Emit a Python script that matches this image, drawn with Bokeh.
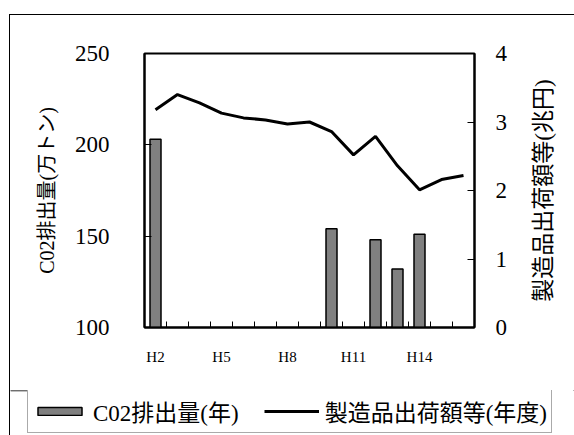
import math
from bokeh.plotting import figure
from bokeh.layouts import column, row
from bokeh.models import (Range1d, LinearAxis, FixedTicker, Legend, LegendItem,
                          ColumnDataSource, Label)
from bokeh.embed import file_html
from bokeh.resources import INLINE

# Fiscal years (Heisei era)
years = ["H2", "H3", "H4", "H5", "H6", "H7", "H8", "H9", "H10",
         "H11", "H12", "H13", "H14", "H15", "H16"]
# CO2 emissions (10k tonnes), only reported for some years
co2 = [203, None, None, None, None, None, None, None, 154,
       None, 148, 132, 151, None, None]
# Shipment value of manufactured goods (trillion yen)
shipments = [3.18, 3.40, 3.28, 3.13, 3.06, 3.03, 2.97, 3.00, 2.86,
             2.52, 2.79, 2.36, 2.01, 2.16, 2.22]
x_labels = ["H2", "H5", "H8", "H11", "H14"]
left_ticks = [100, 150, 200, 250]
right_ticks = [0, 1, 2, 3, 4]
right_title = "製造品出荷額等(兆円)"

FONT = "Liberation Serif, Noto Sans CJK JP"

BAR_STYLE = dict(fill_color="#808080", line_color="black", line_width=1.5)
LINE_STYLE = dict(line_color="black", line_width=3)

idx = list(range(len(years)))
bar_src = ColumnDataSource(dict(
    x=[i for i, v in zip(idx, co2) if v is not None],
    top=[v for v in co2 if v is not None],
))
line_src = ColumnDataSource(dict(x=idx, y=shipments))

# ---- main chart -------------------------------------------------------------
p = figure(width=500, height=375, output_backend="svg", toolbar_location=None,
           x_range=Range1d(-0.5, len(years) - 0.5), y_range=Range1d(100, 250),
           min_border_left=134, min_border_right=33, min_border_top=38,
           min_border_bottom=63)
p.extra_y_ranges = {"right": Range1d(0, 4)}
p.xgrid.visible = False
p.ygrid.visible = False
p.outline_line_color = "black"
p.outline_line_width = 2
p.background_fill_color = "white"
p.border_fill_color = "white"

p.vbar(x="x", top="top", bottom=100, width=0.5, source=bar_src, **BAR_STYLE)
p.line(x="x", y="y", source=line_src, y_range_name="right", **LINE_STYLE)

# bottom axis: labels every third year, tick marks between categories
xa = p.xaxis[0]
label_pos = [years.index(l) for l in x_labels]
xa.ticker = FixedTicker(ticks=label_pos, minor_ticks=[i + 0.5 for i in idx[:-1]])
xa.major_label_overrides = {i: years[i] for i in label_pos}
xa.major_tick_line_color = None
xa.minor_tick_in = 6
xa.minor_tick_out = 0
xa.minor_tick_line_color = "black"
xa.minor_tick_line_width = 1
xa.axis_line_width = 2
xa.major_label_text_font = FONT
xa.major_label_text_font_size = "15px"
xa.major_label_text_color = "black"
xa.major_label_standoff = 15

ya = p.yaxis[0]
ya.ticker = FixedTicker(ticks=left_ticks)
ya.major_tick_in = 7
ya.major_tick_out = 0
ya.minor_tick_line_color = None
ya.axis_line_width = 2
ya.major_label_text_font = FONT
ya.major_label_text_font_size = "23px"
ya.major_label_text_color = "black"
ya.major_label_standoff = 35
ya.axis_label = "C02排出量(万トン)"
ya.axis_label_text_font = FONT
ya.axis_label_text_font_size = "20px"
ya.axis_label_text_font_style = "normal"
ya.axis_label_text_color = "black"
ya.axis_label_standoff = 14

# right value axis (ticks and numbers)
ra = LinearAxis(y_range_name="right", ticker=FixedTicker(ticks=right_ticks))
ra.major_tick_in = 7
ra.major_tick_out = 0
ra.minor_tick_line_color = None
ra.axis_line_width = 2
ra.major_label_text_font = FONT
ra.major_label_text_font_size = "23px"
ra.major_label_text_color = "black"
ra.major_label_standoff = 21
p.add_layout(ra, "right")

# ---- right title strip (text reads bottom-to-top) ---------------------------
t = figure(width=64, height=375, output_backend="svg", toolbar_location=None,
           x_axis_location=None, y_axis_location=None, min_border=0,
           x_range=Range1d(0, 64), y_range=Range1d(0, 4))
t.xgrid.visible = False
t.ygrid.visible = False
t.outline_line_color = None
t.background_fill_color = "white"
t.border_fill_color = "white"
t.add_layout(Label(x=33, y=2, text=right_title, angle=math.pi / 2,
                   text_align="center", text_baseline="middle",
                   text_font=FONT, text_font_size="23px", text_color="black"))

# ---- legend strip -----------------------------------------------------------
lg = figure(width=564, height=45, output_backend="svg", toolbar_location=None,
            x_axis_location=None, y_axis_location=None, min_border=0,
            x_range=Range1d(0, 1), y_range=Range1d(-2, -1))
lg.xgrid.visible = False
lg.ygrid.visible = False
lg.outline_line_color = None
lg.background_fill_color = "white"
lg.border_fill_color = "white"
# key renderers share the series data; the strip's ranges keep them out of view
key_bar = lg.vbar(x="x", top="top", bottom=100, width=0.5, source=bar_src,
                  **BAR_STYLE)
key_line = lg.line(x="x", y="y", source=line_src, **LINE_STYLE)

legend = Legend(items=[LegendItem(label="C02排出量(年)", renderers=[key_bar]),
                       LegendItem(label="製造品出荷額等(年度)", renderers=[key_line])],
                orientation="horizontal", location=(17, 2))
legend.label_text_font = FONT
legend.label_text_font_size = "23px"
legend.label_text_color = "black"
legend.glyph_width = 55
legend.glyph_height = 10
legend.label_standoff = 6
legend.spacing = 25
legend.padding = 4
legend.margin = 0
legend.border_line_color = "#555555"
legend.border_line_width = 1
legend.background_fill_color = "white"
legend.background_fill_alpha = 1
lg.add_layout(legend, "center")

# page frame: left and top rule around the chart, left rule continues below
top_block = row(p, t, margin=(14, 0, 0, 9),
                styles={"border-left": "1px solid black",
                        "border-top": "1px solid black"})
bottom_block = column(lg, margin=(0, 0, 0, 9),
                      styles={"border-left": "1px solid black"})

open("out.html", "w").write(file_html([top_block, bottom_block], INLINE))
